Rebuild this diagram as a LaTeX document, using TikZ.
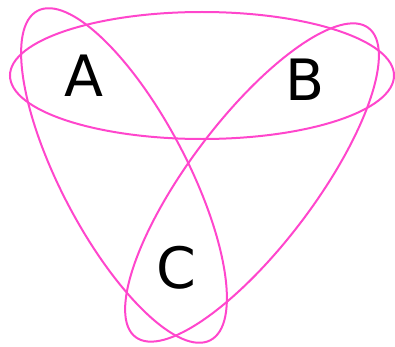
\documentclass[tikz,border=0pt]{standalone}
\usepackage{fontspec}
\setmainfont{DejaVu Sans}
\definecolor{setpink}{HTML}{FF46CC}
\tikzset{
  vset/.style={draw=setpink,line width=2pt},
  lbl/.style={inner sep=0pt,font=\fontsize{57}{60}\selectfont}
}
\begin{document}
\begin{tikzpicture}[x=1pt,y=1pt]
\useasboundingbox (0,0) rectangle (395,346);

\draw[vset] (202,270.5) ellipse [x radius=192, y radius=63.5];
\draw[vset,rotate around={-62.3:(124,170.5)}] (124,170.5) ellipse [x radius=186, y radius=63];
\draw[vset,rotate around={53:(252,163.5)}] (252,163.5) ellipse [x radius=193.5, y radius=63];

\node[lbl] (setA) at (84,270) {A};
\node[lbl] (setB) at (305.5,266) {B};
\node[lbl] (setC) at (176,78.5) {C};
\end{tikzpicture}
\end{document}
